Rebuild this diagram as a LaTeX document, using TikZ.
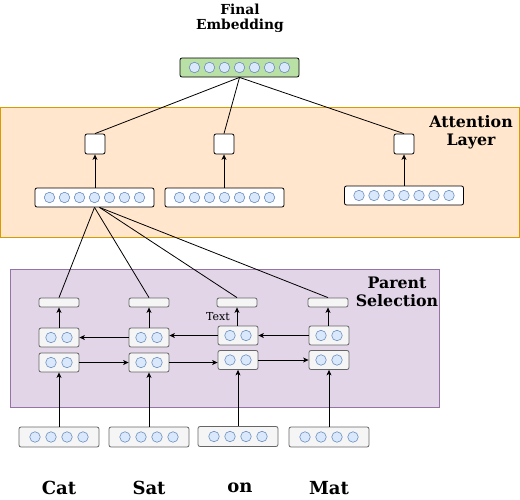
\documentclass[tikz,border=0pt]{standalone}
\usepackage{fontspec}
\setmainfont{DejaVu Serif}
\usepackage{tikz}
\usetikzlibrary{arrows.meta}
\definecolor{unitfill}{HTML}{DAE8FC}
\definecolor{unitline}{HTML}{6C8EBF}
\definecolor{cellfill}{HTML}{F5F5F5}
\definecolor{cellline}{HTML}{666666}
\definecolor{embgreen}{HTML}{B9E0A5}
\definecolor{attfill}{HTML}{FFE6CC}
\definecolor{attline}{HTML}{D79B00}
\definecolor{parfill}{HTML}{E1D5E7}
\definecolor{parline}{HTML}{9673A6}
\newcommand{\mkunits}[3]{% #1: node name, #2: number of units, #3: spacing
	\foreach \i in {1,...,#2}
		\node[unit,xshift={(\i-(#2+1)/2)*#3}] (#1-u\i) at (#1) {};
}
\tikzset{
	box/.style={draw, rounded corners=2, inner sep=0, line width=0.8},
	attvec/.style={box, fill=white, minimum width=119, minimum height=19},
	cell/.style={box, draw=cellline, fill=cellfill, minimum width=40, minimum height=19},
	emb/.style={box, draw=cellline, fill=cellfill, minimum width=80, minimum height=20},
	bar/.style={box, draw=cellline, fill=cellfill, minimum width=40, minimum height=9},
	score/.style={box, fill=white, minimum size=20},
	unit/.style={circle, draw=unitline, fill=unitfill, minimum size=10.5, inner sep=0, line width=0.6},
	lbl/.style={font=\fontsize{13.8}{15}\selectfont\bfseries, align=center},
	regionlbl/.style={font=\fontsize{15.8}{18.5}\selectfont\bfseries, align=center},
	word/.style={font=\fontsize{18}{20}\selectfont\bfseries},
	arr/.style={-{Stealth[length=5.5pt,width=5pt,inset=1.5pt]}, line width=0.8},
	link/.style={line width=0.8},
}
\begin{document}
\begin{tikzpicture}[x=1pt,y=-1pt]
	\useasboundingbox (0,0) rectangle (520,499);
	
	% Background layers
	\draw[fill=attfill,draw=attline,line width=0.8] (0,107) rectangle (519,237);
	\draw[fill=parfill,draw=parline,line width=0.8] (10,269) rectangle (439,407);
	\node[regionlbl] (attlbl) at (471,132) {Attention\\Layer};
	\node[regionlbl] (parlbl) at (397,292) {Parent\\Selection};
	
	% Final embedding
	\node[lbl] (finallbl) at (240,18) {Final\\Embedding};
	\node[attvec,fill=embgreen] (final) at (239.5,67.5) {};
	\mkunits{final}{7}{15}
	
	% Attention layer
	\node[attvec] (a1) at (94.5,197.5) {};
	\node[attvec] (a2) at (224.5,197.5) {};
	\node[attvec] (a3) at (404,195.5) {};
	\foreach \n in {a1,a2,a3} {\mkunits{\n}{7}{15}}
	\node[score] (s1) at (95,144) {};
	\node[score] (s2) at (224,144) {};
	\node[score] (s3) at (404,144) {};
	\foreach \k in {1,2,3} {
		\draw[arr] (a\k.north -| s\k) -- (s\k.south);
		\draw[link] (final.south) -- (s\k.north);
	}
	
	% Parent selection
	\node[bar] (b1) at (59,302.5) {};
	\node[bar] (b2) at (149,302.5) {};
	\node[bar] (b3) at (237,302.5) {};
	\node[bar] (b4) at (328,302.5) {};
	\node[cell] (u1) at (59,337.5) {};
	\node[cell] (u2) at (149,337.5) {};
	\node[cell] (u3) at (238,335.5) {};
	\node[cell] (u4) at (329,335.5) {};
	\node[cell] (l1) at (59,362.5) {};
	\node[cell] (l2) at (149,362.5) {};
	\node[cell] (l3) at (238,360) {};
	\node[cell] (l4) at (329,360) {};
	\foreach \n in {u1,u2,u3,u4,l1,l2,l3,l4} {\mkunits{\n}{2}{16}}
	\node[font=\fontsize{11}{12}\selectfont] (txt) at (218,317) {Text};
	
	% Word embeddings
	\node[emb] (e1) at (59,437) {};
	\node[emb] (e2) at (149,437) {};
	\node[emb] (e3) at (238,436.5) {};
	\node[emb] (e4) at (329,437) {};
	\foreach \n in {e1,e2,e3,e4} {\mkunits{\n}{4}{16}}
	\node[word] (w1) at (59,488) {Cat};
	\node[word] (w2) at (149,488) {Sat};
	\node[word] (w3) at (240,488) {on};
	\node[word] (w4) at (329,488) {Mat};
	
	% Connections
	\foreach \k in {1,2,3,4} {
		\draw[arr] (e\k.north -| l\k) -- (l\k.south);
		\draw[arr] (u\k.north -| b\k) -- (b\k.south);
	}
	\draw[arr] (l1.east) -- (l2.west);
	\draw[arr] (l2.east) -- (l2.east -| l3.west);
	\draw[arr] (l3.east) -- (l4.west);
	\draw[arr] (u4.west) -- (u3.east);
	\draw[arr] (u3.west) -- (u3.west -| u2.east);
	\draw[arr] (u2.west) -- (u1.east);
	\draw[link] (a1.south) -- (b1.north);
	\draw[link] (a1.south) -- (b2.north);
	\draw[link] ([xshift=5]a1.south) -- (b3.north);
	\draw[link] ([xshift=5]a1.south) -- (b4.north);
\end{tikzpicture}
\end{document}
